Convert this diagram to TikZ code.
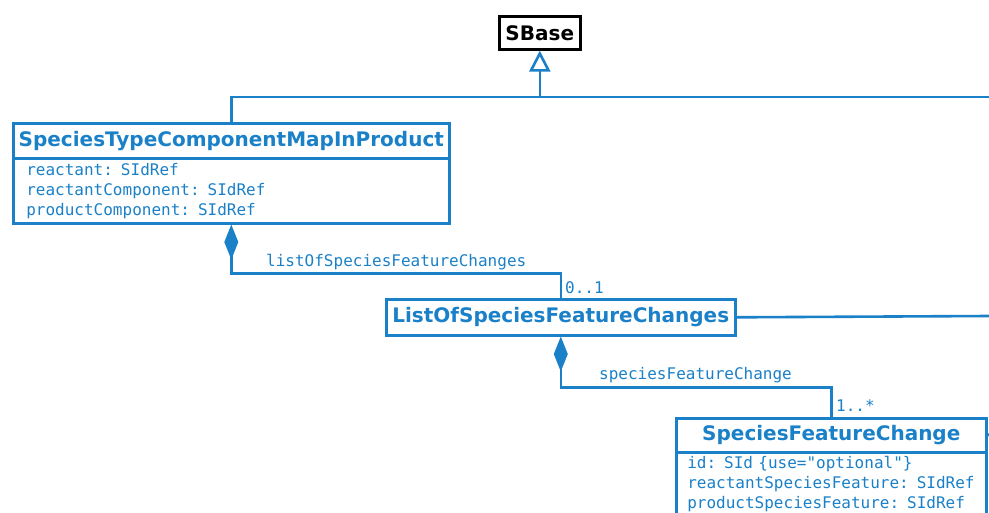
\documentclass[tikz,border=0pt]{standalone}
\usepackage{fontspec}
\setmainfont{DejaVu Sans}
\newfontfamily\monof{DejaVu Sans Mono}
\newcommand\monosixteen{\monof\fontsize{16}{20}\selectfont\fontdimen2\font=0.6021em\fontdimen3\font=0pt\fontdimen4\font=0pt\relax}
\usetikzlibrary{arrows.meta}
\definecolor{umlblue}{RGB}{26,128,200}
\begin{document}
\begin{tikzpicture}[x=1pt,y=-1pt,
  titlebox/.style={draw=umlblue,text=umlblue,line width=2.6pt,font=\bfseries\fontsize{20}{24}\selectfont,inner sep=0pt,anchor=north west},
  attrbox/.style={draw=umlblue,text=umlblue,line width=2.6pt,font=\monosixteen,align=left,inner ysep=0pt,anchor=north west},
  conn/.style={draw=umlblue,line width=2.6pt},
  lbl/.style={text=umlblue,font=\monosixteen,inner sep=0pt,anchor=west}
]
\useasboundingbox (0,0) rectangle (989,512);
\clip (0,0) rectangle (989,512);
% SBase
\node[draw=black,line width=2.6pt,font=\bfseries\fontsize{20}{24}\selectfont,inner sep=0pt,minimum width=81pt,minimum height=33pt,anchor=north west] (sbase) at (498,15) {SBase};
% SpeciesTypeComponentMapInProduct
\node[titlebox,minimum width=436pt,minimum height=35pt] (stcm) at (12,122) {SpeciesTypeComponentMapInProduct};
\node[attrbox,minimum width=436pt,minimum height=65pt,text width=410pt,inner xsep=13pt] (stcmattr) at (12,157) {reactant: SIdRef\\reactantComponent: SIdRef\\productComponent: SIdRef};
% ListOfSpeciesFeatureChanges
\node[titlebox,minimum width=349pt,minimum height=36pt] (lofc) at (385,298) {ListOfSpeciesFeatureChanges};
% SpeciesFeatureChange
\node[attrbox,minimum width=310pt,minimum height=64pt,text width=288pt,inner xsep=11pt] (sfcattr) at (675,451) {id: SId \{use="optional"\}\\reactantSpeciesFeature: SIdRef\\productSpeciesFeature: SIdRef};
\node[titlebox,minimum width=310pt,minimum height=34pt] (sfc) at (675,417) {SpeciesFeatureChange};
% free ends
\coordinate (r1) at (989,97);
\coordinate (r2) at (989,316);
\coordinate (r3) at (989,434);
% inheritance
\draw[conn] (stcm.north) |- (r1);
\draw[conn,-{Triangle[open,length=21pt,width=21pt]}] (sbase.south |- r1) -- (sbase.south);
\draw[conn] (lofc.east) -- (r2);
\draw[conn] (sfc.east) -- (r3);
% compositions
\draw[conn,{Diamond[length=35pt,width=14pt]}-] (stcmattr.south) -- ++(0,49) -| (lofc.north);
\draw[conn,{Diamond[length=35pt,width=14pt]}-] (lofc.south) -- ++(0,51) -| (sfc.north);
% labels
\node[lbl] (l1) at (266,262) {listOfSpeciesFeatureChanges};
\node[lbl] (m1l) at (565,288) {0..1};
\node[lbl] (l2) at (599,375) {speciesFeatureChange};
\node[lbl] (m2l) at (836,406) {1..*};
\end{tikzpicture}
\end{document}
